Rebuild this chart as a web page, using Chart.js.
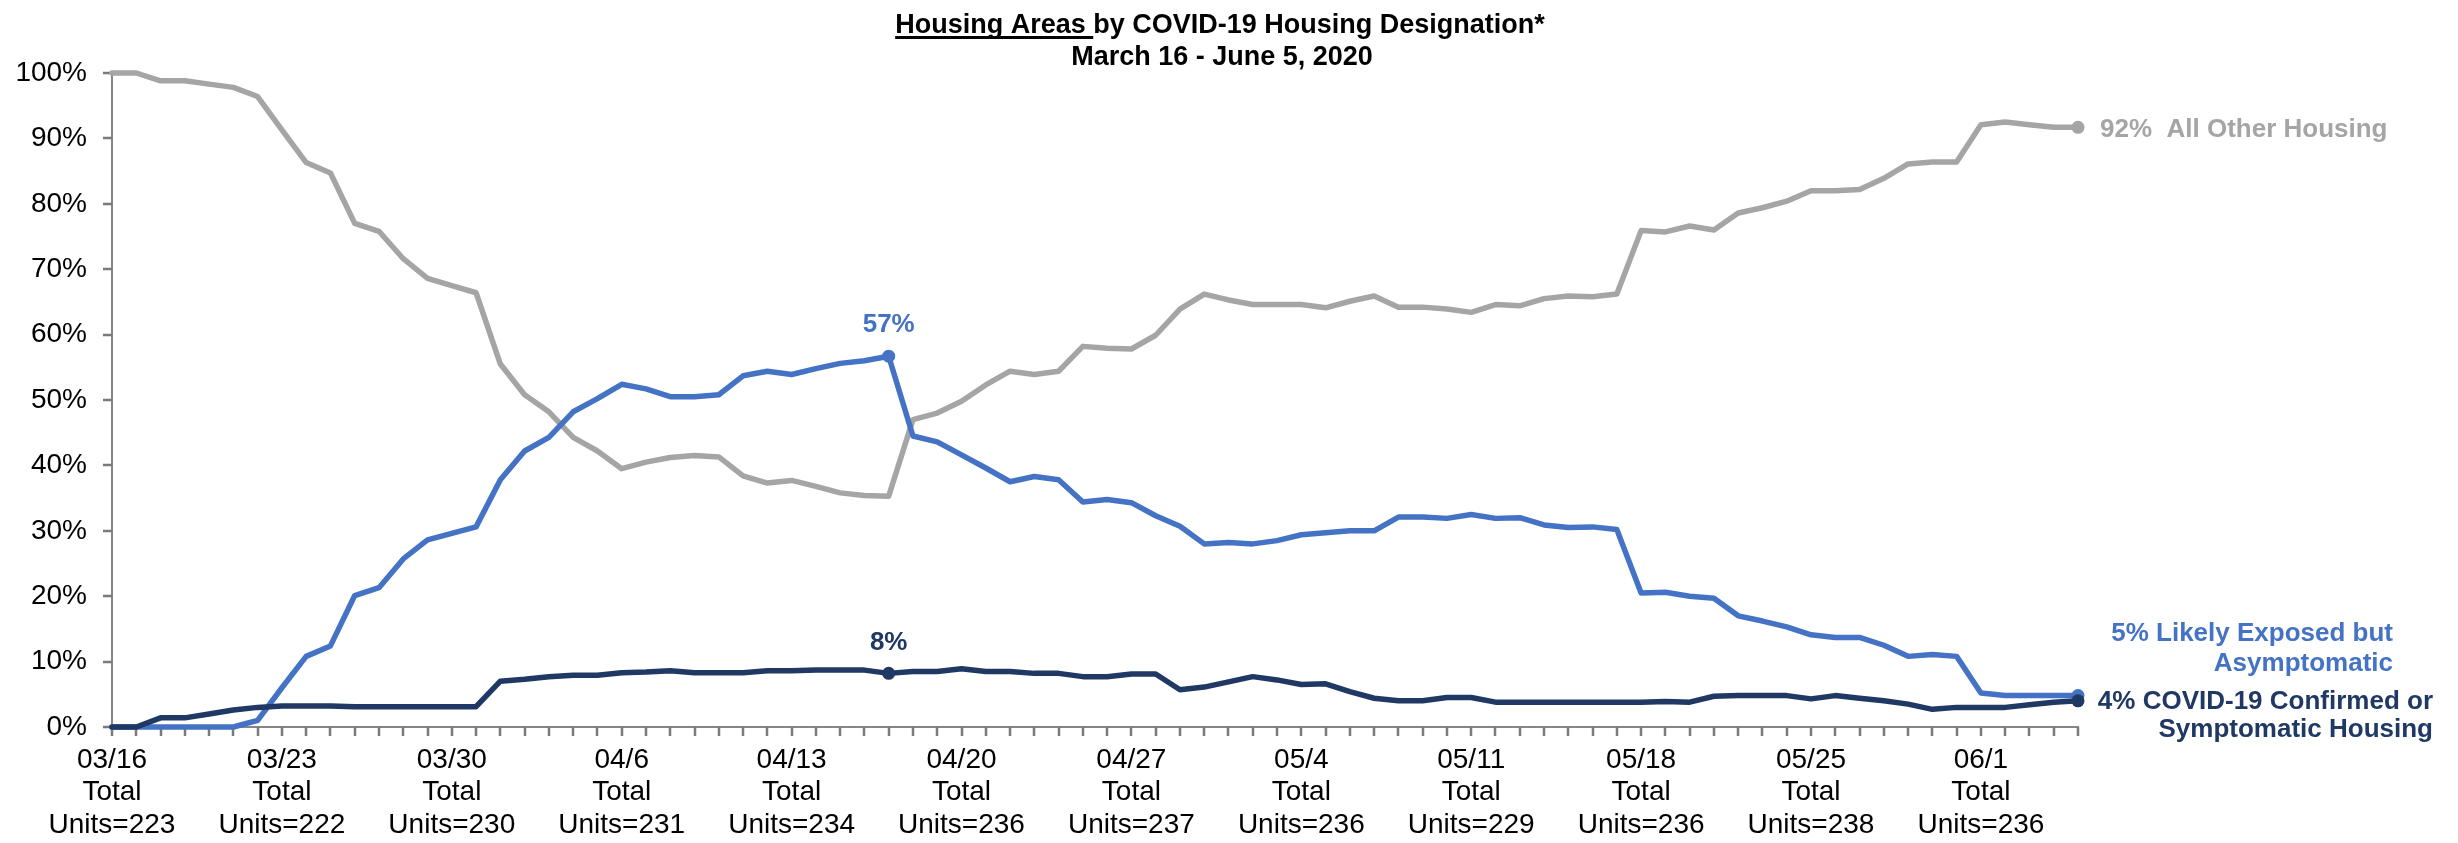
<!DOCTYPE html>
<html>
<head>
<meta charset="utf-8">
<script src="https://cdn.jsdelivr.net/npm/chart.js@4.4.1/dist/chart.umd.min.js"></script>
<style>
  html, body { margin:0; padding:0; background:#fff; }
  #wrap { width:2458px; height:843px; position:relative; }
</style>
</head>
<body>
<div id="wrap"><canvas id="chart" width="2458" height="843"></canvas></div>
<script>
/* Housing areas by COVID-19 housing designation — line chart */

// ── Data ──────────────────────────────────────────────────────────────────
const weekLabels = ['03/16','03/23','03/30','04/6','04/13','04/20','04/27','05/4','05/11','05/18','05/25','06/1'];
const totalUnits = [223, 222, 230, 231, 234, 236, 237, 236, 229, 236, 238, 236];

// daily, March 16 .. June 5 (82 days), percent of housing areas
const otherHousing = [
  100, 100, 98.8, 98.8, 98.3, 97.8, 96.4, 91.3, 86.3, 84.7,
  77.0, 75.8, 71.6, 68.6, 67.5, 66.4, 55.5, 50.8, 48.2, 44.3,
  42.2, 39.5, 40.5, 41.2, 41.5, 41.3, 38.4, 37.3, 37.7, 36.8,
  35.8, 35.4, 35.3, 47.0, 48.0, 49.8, 52.3, 54.4, 53.9, 54.4,
  58.2, 57.9, 57.8, 59.9, 63.9, 66.2, 65.3, 64.6, 64.6, 64.6,
  64.1, 65.1, 65.9, 64.2, 64.2, 63.9, 63.4, 64.6, 64.4, 65.5,
  65.9, 65.8, 66.2, 75.9, 75.7, 76.6, 76.0, 78.6, 79.4, 80.4,
  82.0, 82.0, 82.2, 83.9, 86.1, 86.4, 86.4, 92.1, 92.5, 92.1,
  91.7, 91.7
];
const exposedAsym = [
  0, 0, 0, 0, 0, 0, 1.0, 6.0, 10.8, 12.4,
  20.1, 21.3, 25.7, 28.6, 29.6, 30.6, 37.8, 42.2, 44.3, 48.2,
  50.2, 52.4, 51.7, 50.5, 50.5, 50.8, 53.7, 54.4, 53.9, 54.8,
  55.6, 56.0, 56.7, 44.5, 43.6, 41.6, 39.6, 37.5, 38.3, 37.8,
  34.4, 34.8, 34.3, 32.3, 30.7, 28.0, 28.2, 28.0, 28.5, 29.4,
  29.7, 30.0, 30.0, 32.1, 32.1, 31.9, 32.5, 31.9, 32.0, 30.9,
  30.5, 30.6, 30.2, 20.5, 20.6, 20.0, 19.7, 17.0, 16.2, 15.3,
  14.1, 13.7, 13.7, 12.5, 10.8, 11.1, 10.8, 5.2, 4.8, 4.8,
  4.8, 4.8
];
const confirmedSym = [
  0, 0, 1.4, 1.4, 2.0, 2.6, 3.0, 3.2, 3.2, 3.2,
  3.1, 3.1, 3.1, 3.1, 3.1, 3.1, 7.0, 7.3, 7.7, 7.9,
  7.9, 8.3, 8.4, 8.6, 8.3, 8.3, 8.3, 8.6, 8.6, 8.7,
  8.7, 8.7, 8.2, 8.5, 8.5, 8.9, 8.5, 8.5, 8.2, 8.2,
  7.7, 7.7, 8.1, 8.1, 5.7, 6.1, 6.9, 7.7, 7.2, 6.5,
  6.6, 5.4, 4.4, 4.0, 4.0, 4.5, 4.5, 3.8, 3.8, 3.8,
  3.8, 3.8, 3.8, 3.8, 3.9, 3.8, 4.7, 4.8, 4.8, 4.8,
  4.3, 4.8, 4.4, 4.0, 3.5, 2.7, 3.0, 3.0, 3.0, 3.4,
  3.8, 4.0
];
const peakIdx = 32;   // 04/17 call-out
const lastIdx = confirmedSym.length - 1;

// day categories
const days = [];
for (let i = 0; i < otherHousing.length; i++) {
  const d = new Date(2020, 2, 16 + i);
  days.push((d.getMonth()+1) + '/' + d.getDate());
}

// ── Colours ───────────────────────────────────────────────────────────────
const C_GRAY = '#A5A5A5', C_BLUE = '#4472C4', C_NAVY = '#1F3864', C_AXIS = '#868686';
const FONT = '"Liberation Sans", Arial, sans-serif';
Chart.defaults.font.family = FONT;

function series(data, color, marks) {
  return {
    data, borderColor: color, backgroundColor: color,
    borderWidth: 5.5, borderJoinStyle: 'round', borderCapStyle: 'round',
    tension: 0, clip: false,
    pointRadius: c => marks.includes(c.dataIndex) ? 6.5 : 0,
    pointBorderWidth: 0, pointBackgroundColor: color
  };
}

// ── Axis tick marks (outside, one per day) ────────────────────────────────
const tickMarks = {
  id: 'tickMarks',
  beforeDatasetsDraw(chart) {
    const ctx = chart.ctx, xs = chart.scales.x, ys = chart.scales.y;
    const bottom = chart.chartArea.bottom, left = chart.chartArea.left;
    ctx.save();
    ctx.strokeStyle = '#7A7A7A'; ctx.lineWidth = 2.5;
    ctx.beginPath();
    for (let i = 0; i < days.length; i++) {
      const x = Math.round(xs.getPixelForValue(i));
      ctx.moveTo(x, bottom); ctx.lineTo(x, bottom + 9);
    }
    for (let v = 0; v <= 100; v += 10) {
      const y = Math.round(ys.getPixelForValue(v));
      ctx.moveTo(left - 9, y); ctx.lineTo(left, y);
    }
    ctx.stroke();
    ctx.restore();
  }
};

// ── Title + call-out labels ───────────────────────────────────────────────
const annot = {
  id: 'annot',
  afterDraw(chart) {
    const ctx = chart.ctx;
    const pt = (ds, i) => chart.getDatasetMeta(ds).data[i];
    ctx.save();

    // title
    ctx.fillStyle = '#000';
    ctx.font = 'bold 27px ' + FONT;
    ctx.textBaseline = 'alphabetic';
    const a = 'Housing Areas ', b = 'by COVID-19 Housing Designation*';
    const wa = ctx.measureText(a).width, wb = ctx.measureText(b).width;
    const x0 = 1220 - (wa + wb) / 2;
    ctx.textAlign = 'left';
    ctx.fillText(a, x0, 33);
    ctx.fillText(b, x0 + wa, 33);
    ctx.fillRect(x0, 36, wa, 3);
    ctx.textAlign = 'center';
    ctx.fillText('March 16 - June 5, 2020', 1222, 65);

    ctx.font = 'bold 26px ' + FONT;

    // peak call-outs
    const pb = pt(1, peakIdx), pn = pt(0, peakIdx);
    ctx.fillStyle = C_BLUE;
    ctx.fillText(Math.round(exposedAsym[peakIdx]) + '%', pb.x, pb.y - 24);
    ctx.fillStyle = C_NAVY;
    ctx.fillText(Math.round(confirmedSym[peakIdx]) + '%', pn.x, pn.y - 23);

    // end labels
    const eg = pt(2, lastIdx), eb = pt(1, lastIdx), en = pt(0, lastIdx);
    ctx.textAlign = 'left';
    ctx.fillStyle = C_GRAY;
    ctx.fillText(Math.round(otherHousing[lastIdx]) + '%  All Other Housing', eg.x + 22, eg.y + 10);

    ctx.textAlign = 'right';
    ctx.fillStyle = C_BLUE;
    ctx.fillText(Math.round(exposedAsym[lastIdx]) + '% Likely Exposed but', eb.x + 315, eb.y - 55);
    ctx.fillText('Asymptomatic', eb.x + 315, eb.y - 25);

    ctx.fillStyle = C_NAVY;
    ctx.fillText(Math.round(confirmedSym[lastIdx]) + '% COVID-19 Confirmed or', en.x + 355, en.y + 8);
    ctx.fillText('Symptomatic Housing', en.x + 355, en.y + 36);
    ctx.restore();
  }
};

// ── Chart ─────────────────────────────────────────────────────────────────
new Chart(document.getElementById('chart'), {
  type: 'line',
  data: {
    labels: days,
    datasets: [
      series(confirmedSym, C_NAVY, [peakIdx, lastIdx]),
      series(exposedAsym,  C_BLUE, [peakIdx, lastIdx]),
      series(otherHousing, C_GRAY, [lastIdx])
    ]
  },
  options: {
    responsive: false, animation: false, events: [],
    layout: { padding: { top: 73, right: 380, bottom: 0, left: 0 } },
    plugins: { legend: { display: false }, tooltip: { enabled: false }, title: { display: false } },
    scales: {
      x: {
        offset: false,
        grid: { display: true, drawOnChartArea: false, drawTicks: true, tickLength: 9, color: C_AXIS, lineWidth: 2 },
        border: { display: true, color: C_AXIS, width: 2 },
        ticks: {
          autoSkip: false, maxRotation: 0, minRotation: 0, padding: 8, color: '#000',
          font: { size: 28, lineHeight: 1.16 },
          callback: (v, i) => i % 7 === 0
            ? [weekLabels[i / 7], 'Total', 'Units=' + totalUnits[i / 7]]
            : ''
        },
        afterFit: s => { s.height = 116; }
      },
      y: {
        min: 0, max: 100,
        grid: { display: true, drawOnChartArea: false, drawTicks: true, tickLength: 8, color: C_AXIS, lineWidth: 2 },
        border: { display: true, color: C_AXIS, width: 2 },
        ticks: { stepSize: 10, padding: 17, color: '#000', font: { size: 28 }, callback: v => v + '%' },
        afterFit: s => { s.width = 112; }
      }
    }
  },
  plugins: [tickMarks, annot]
});
</script>
</body>
</html>
